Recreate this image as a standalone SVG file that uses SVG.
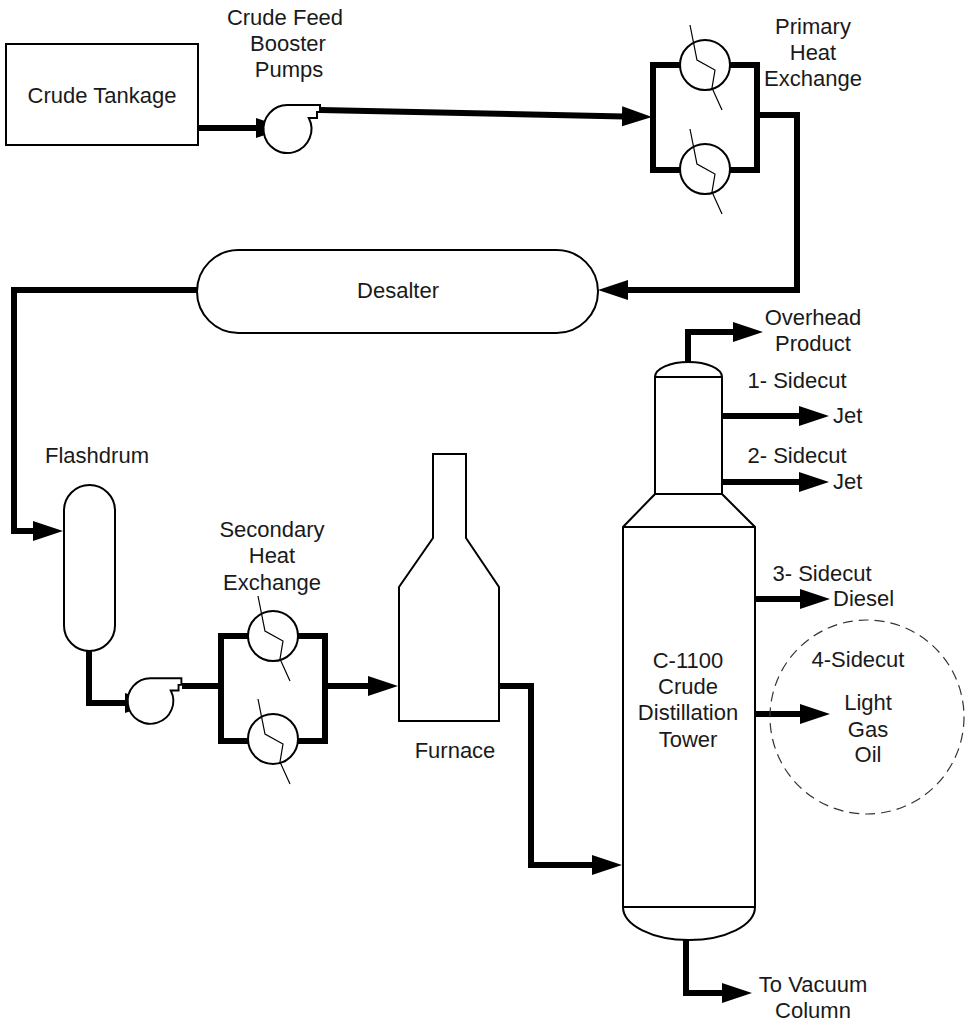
<svg xmlns="http://www.w3.org/2000/svg" xmlns:xlink="http://www.w3.org/1999/xlink" width="965" height="1030" viewBox="0 0 965 1030">
<style>
text{font-family:"Liberation Sans",Arial,sans-serif;font-size:22px;fill:#1a1a1a}
.c{text-anchor:middle}
.pipe{fill:none;stroke:#000;stroke-width:6;stroke-linejoin:miter}
.pipe-a{fill:none;stroke:#000;stroke-width:6;marker-end:url(#ah)}
.eq{fill:#fff;stroke:#000;stroke-width:2}
.thin{fill:none;stroke:#000;stroke-width:1.2}
</style>
<defs>
<marker id="ah" markerUnits="userSpaceOnUse" markerWidth="32" markerHeight="22" refX="2" refY="10" orient="auto">
<path d="M0,0 L30,10 L0,20 Z" fill="#000"/>
</marker>
<g id="hx">
<circle r="25" class="eq"/>
<polyline class="thin" points="-15,-40 -8,-5 10,5 7,23 17,45"/>
</g>
<g id="pump">
<path class="eq" d="M0,-24 H32 V-17 H29 V-11 H20.8 A24,24 0 1 1 0,-24 Z"/>
</g>
</defs>
<rect width="965" height="1030" fill="#fff"/>

<g id="connectors">
<path class="pipe-a" d="M198,128 H258"/>
<path class="pipe-a" d="M320,110 L624,116.4"/>
<path class="pipe" d="M680,65 H653 V170 H680 M730,65 H757 V170 H730"/>
<path class="pipe-a" d="M757,115 H797 V290 H626"/>
<path class="pipe-a" d="M197,290 H14 V531 H35"/>
<path class="pipe-a" d="M89,651 V703 H127"/>
<path class="pipe" d="M182,686 H221"/>
<path class="pipe" d="M248,636 H221 V741 H248 M298,636 H325 V741 H298"/>
<path class="pipe-a" d="M325,686 H370"/>
<path class="pipe-a" d="M499,686 H531 V865 H594"/>
<path class="pipe-a" d="M688,362 V332 H735"/>
<path class="pipe-a" d="M722,416 H801"/>
<path class="pipe-a" d="M722,482 H801"/>
<path class="pipe-a" d="M755,599 H802"/>
<path class="pipe-a" d="M755,714 H802"/>
<path class="pipe-a" d="M686,940 V993 H724"/>
</g>

<g id="crude-tankage">
<rect x="6" y="44" width="192" height="101" class="eq"/>
<text class="c" x="102" y="103">Crude Tankage</text>
</g>

<g id="booster-pump">
<use xlink:href="#pump" href="#pump" transform="translate(288,129)"/>
<text class="c" x="285" y="25">Crude Feed</text>
<text class="c" x="288" y="51">Booster</text>
<text class="c" x="289" y="77">Pumps</text>
</g>

<g id="primary-hx">
<use xlink:href="#hx" href="#hx" transform="translate(705,65)"/>
<use xlink:href="#hx" href="#hx" transform="translate(705,169)"/>
<text class="c" x="813" y="34">Primary</text>
<text class="c" x="813" y="60">Heat</text>
<text class="c" x="813" y="86">Exchange</text>
</g>

<g id="desalter">
<rect x="197" y="250" width="401" height="83" rx="41.5" class="eq"/>
<text class="c" x="398" y="298">Desalter</text>
</g>

<g id="flashdrum">
<rect x="64" y="485" width="51" height="166" rx="25.5" class="eq"/>
<text class="c" x="97" y="463">Flashdrum</text>
</g>

<g id="charge-pump">
<use xlink:href="#pump" href="#pump" transform="translate(151,701) scale(0.95)"/>
</g>

<g id="secondary-hx">
<use xlink:href="#hx" href="#hx" transform="translate(273,636)"/>
<use xlink:href="#hx" href="#hx" transform="translate(273,739)"/>
<text class="c" x="272" y="537">Secondary</text>
<text class="c" x="272" y="563">Heat</text>
<text class="c" x="272" y="590">Exchange</text>
</g>

<g id="furnace">
<path class="eq" d="M433,454 H466 V538 L499,587 V721 H399 V587 L433,538 Z"/>
<text class="c" x="455" y="758">Furnace</text>
</g>

<g id="tower">
<path class="eq" d="M655,377 A33.5,15 0 0 1 722,377 V494 L755,527 V907 A66,33 0 0 1 623,907 V527 L655,494 Z"/>
<path class="eq" d="M655,377 H722 M655,494 H722 M623,527 H755 M623,907 H755"/>
<text class="c" x="688" y="668">C-1100</text>
<text class="c" x="688" y="694">Crude</text>
<text class="c" x="688" y="720">Distillation</text>
<text class="c" x="688" y="747">Tower</text>
</g>

<g id="products">
<text class="c" x="813" y="325">Overhead</text>
<text class="c" x="813" y="351">Product</text>
<text class="c" x="797" y="388">1- Sidecut</text>
<text x="833" y="423">Jet</text>
<text class="c" x="797" y="463">2- Sidecut</text>
<text x="833" y="489">Jet</text>
<text class="c" x="822" y="581">3- Sidecut</text>
<text x="833" y="606">Diesel</text>
<text class="c" x="813" y="992">To Vacuum</text>
<text class="c" x="813" y="1018">Column</text>
</g>

<g id="lgo">
<circle cx="867" cy="717" r="97" fill="none" stroke="#333" stroke-width="1.2" stroke-dasharray="10,6"/>
<text class="c" x="858" y="667">4-Sidecut</text>
<text class="c" x="868" y="710">Light</text>
<text class="c" x="868" y="737">Gas</text>
<text class="c" x="868" y="762">Oil</text>
</g>
</svg>
